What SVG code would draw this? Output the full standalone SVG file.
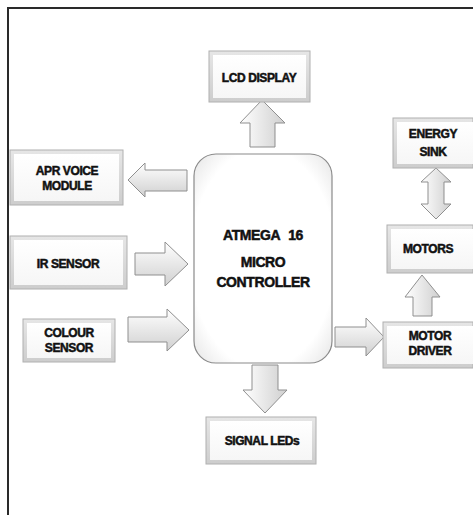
<svg xmlns="http://www.w3.org/2000/svg" width="473" height="515" viewBox="0 0 473 515">
<defs>
<linearGradient id="bev" x1="0" y1="0" x2="0" y2="1">
<stop offset="0" stop-color="#e6e6e6"/><stop offset="1" stop-color="#cdcdcd"/>
</linearGradient>
<linearGradient id="inner" x1="0" y1="0" x2="0" y2="1">
<stop offset="0" stop-color="#ffffff"/><stop offset="1" stop-color="#f6f6f6"/>
</linearGradient>
<linearGradient id="ah" x1="0" y1="0" x2="0" y2="1">
<stop offset="0" stop-color="#ffffff"/><stop offset="1" stop-color="#d0d0d0"/>
</linearGradient>
<linearGradient id="av" x1="0" y1="0" x2="1" y2="0">
<stop offset="0" stop-color="#ffffff"/><stop offset="1" stop-color="#cfcfcf"/>
</linearGradient>
<radialGradient id="mc" cx="0.5" cy="0.5" r="0.75">
<stop offset="0.7" stop-color="#ffffff"/><stop offset="1" stop-color="#dedede"/>
</radialGradient>
</defs>
<style>
.box{fill:url(#bev);stroke:#b0b0b0;stroke-width:1}
.in{fill:url(#inner);stroke:none}
.t{font-family:"Liberation Sans",Arial,sans-serif;font-weight:bold;font-size:12px;fill:#111;stroke:#111;stroke-width:0.5;text-anchor:middle;letter-spacing:-0.4px}
.big{font-size:14px}
.ah{fill:url(#ah);stroke:#8f8f8f;stroke-width:1;stroke-linejoin:miter}
.av{fill:url(#av);stroke:#8f8f8f;stroke-width:1;stroke-linejoin:miter}
</style>
<rect x="0" y="0" width="473" height="515" fill="#ffffff"/>
<rect x="8" y="8" width="475" height="520" fill="none" stroke="#2a2a2a" stroke-width="2"/>

<g id="connectors">
<polygon class="av" points="262,100 285,123 275,123 275,147 250,147 250,123 240,123"/>
<polygon class="ah" points="128,180 145,163 145,170 187,170 187,191 145,191 145,197"/>
<polygon class="ah" points="135,253 165,253 165,242 188,264 165,286 165,275 135,275"/>
<polygon class="ah" points="128,317 167,317 167,309 189,330 167,351 167,342 128,342"/>
<polygon class="ah" points="335,327 366,327 366,318 384,337 366,356 366,347 335,347"/>
<polygon class="av" points="252,365 278,365 278,390 287,390 265,413 243,390 252,390"/>
<polygon class="av" points="422,275 440,297 432,297 432,316 413,316 413,297 405,297"/>
<polygon class="av" points="436,168 451,182 444,182 444,204 451,204 436,219 421,204 428,204 428,182 421,182"/>
</g>

<g id="lcd">
<rect class="box" x="209" y="51" width="101" height="51"/>
<rect class="in" x="213" y="55" width="93" height="43"/>
<text class="t" x="259" y="82">LCD DISPLAY</text>
</g>

<g id="mcu">
<rect x="194" y="154" width="138" height="209" rx="22" fill="url(#mc)" stroke="#8a8a8a" stroke-width="1.2"/>
<text class="t big" x="263" y="240" word-spacing="5">ATMEGA 16</text>
<text class="t big" x="263" y="267">MICRO</text>
<text class="t big" x="263" y="287">CONTROLLER</text>
</g>

<g id="apr">
<rect class="box" x="10" y="150" width="113" height="55"/>
<rect class="in" x="14" y="154" width="105" height="47"/>
<text class="t" x="67" y="175">APR VOICE</text>
<text class="t" x="67" y="190">MODULE</text>
</g>

<g id="ir">
<rect class="box" x="10" y="236" width="117" height="53"/>
<rect class="in" x="14" y="240" width="109" height="45"/>
<text class="t" x="68" y="268">IR SENSOR</text>
</g>

<g id="colour">
<rect class="box" x="23" y="319" width="92" height="43"/>
<rect class="in" x="27" y="323" width="84" height="35"/>
<text class="t" x="69" y="337">COLOUR</text>
<text class="t" x="69" y="352">SENSOR</text>
</g>

<g id="leds">
<rect class="box" x="206" y="417" width="110" height="47"/>
<rect class="in" x="210" y="421" width="102" height="39"/>
<text class="t" x="262" y="445">SIGNAL LEDs</text>
</g>

<g id="energy">
<rect class="box" x="393" y="118" width="80" height="50"/>
<rect class="in" x="397" y="122" width="76" height="42"/>
<text class="t" x="433" y="138">ENERGY</text>
<text class="t" x="433" y="156">SINK</text>
</g>

<g id="motors">
<rect class="box" x="387" y="225" width="86" height="48"/>
<rect class="in" x="391" y="229" width="82" height="40"/>
<text class="t" x="428" y="253">MOTORS</text>
</g>

<g id="driver">
<rect class="box" x="383" y="322" width="90" height="46"/>
<rect class="in" x="387" y="326" width="86" height="38"/>
<text class="t" x="430" y="340">MOTOR</text>
<text class="t" x="430" y="355">DRIVER</text>
</g>
</svg>
